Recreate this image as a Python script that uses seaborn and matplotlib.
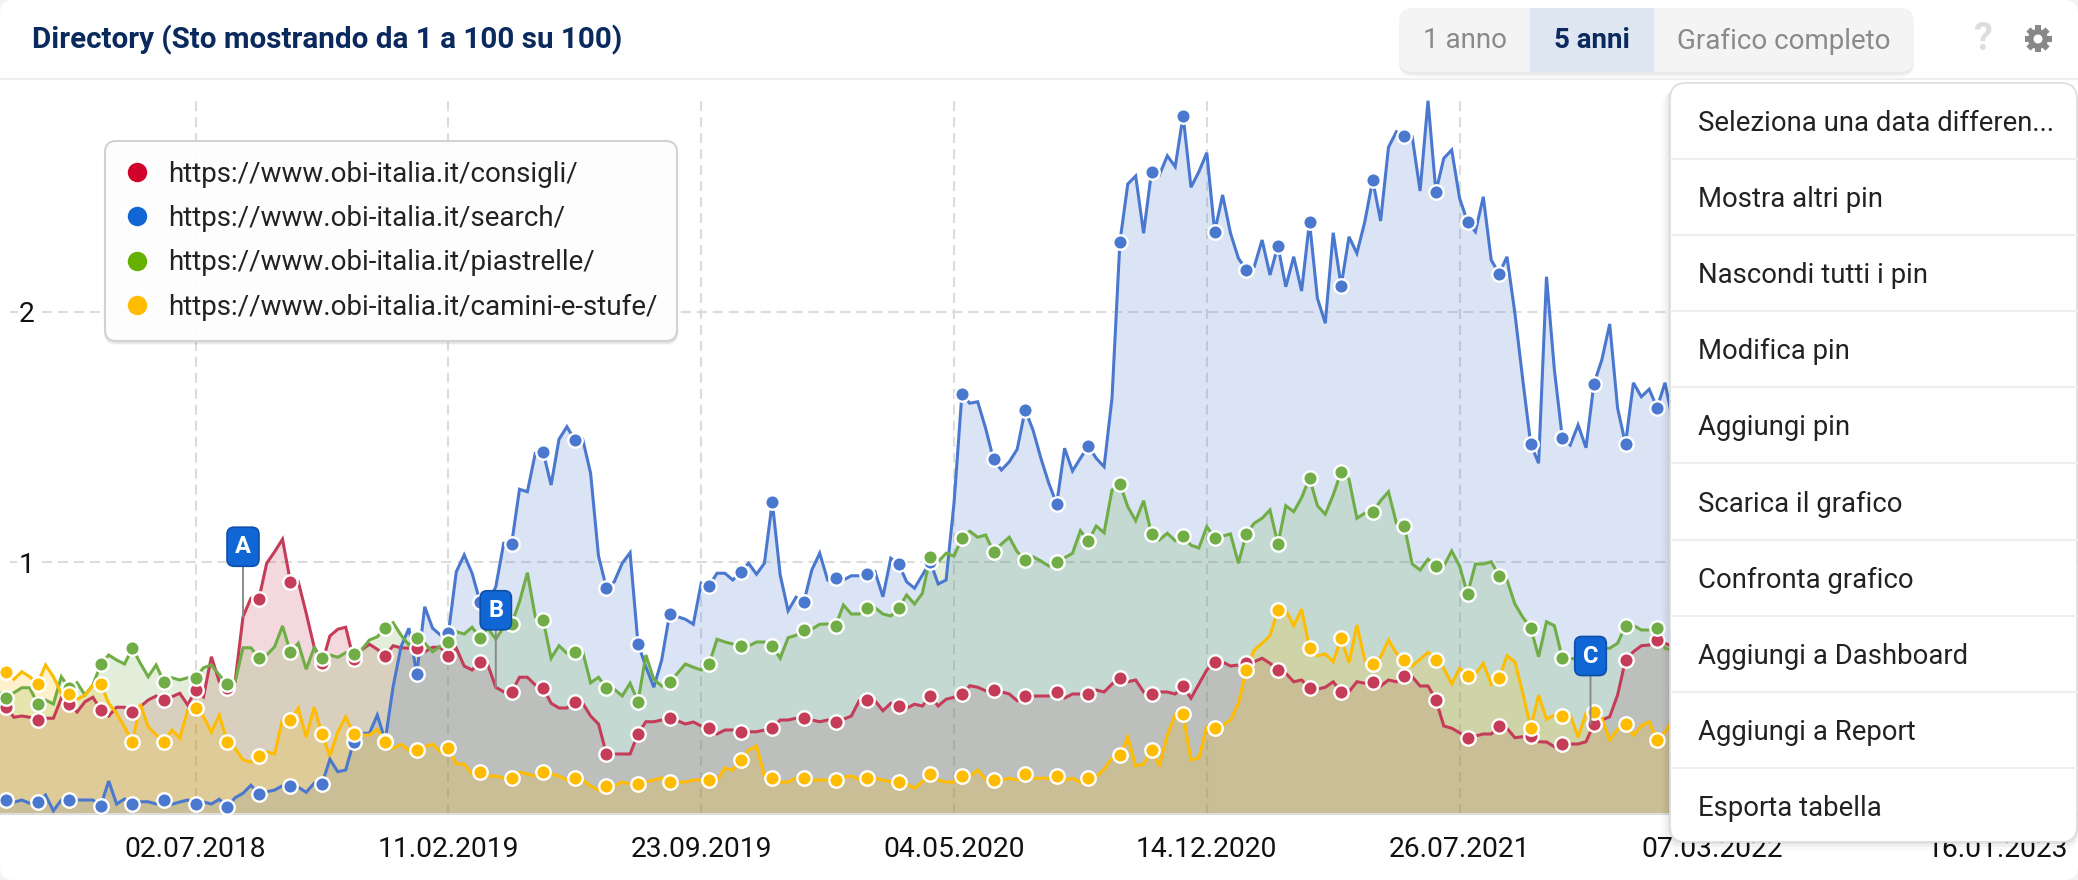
import pandas as pd
import matplotlib
matplotlib.use("Agg")
import matplotlib.pyplot as plt
from matplotlib.lines import Line2D
from matplotlib.patches import Circle, FancyBboxPatch, Rectangle
import seaborn as sns
import math

# weekly readings, first week is 08.01.2018
first_week = "2018-01-08"

consigli = [
    .441, .419, .379, .384, .379, .368, .375, .375, .455, .432, .400, .441, .459, .408, .384, .419, .419, .400,
    .421, .448, .464, .448, .461, .475, .428, .488, .461, .621, .521, .495, .521, .781, .855, .851, .995, 1.041,
    1.091, .921, .921, .795, .661, .595, .704, .731, .739, .611, .648, .671, .651, .625, .665, .657, .655, .657,
    .641, .659, .659, .624, .655, .584, .568, .600, .588, .499, .481, .480, .539, .539, .508, .496, .435, .416,
    .416, .441, .435, .384, .352, .233, .232, .232, .232, .313, .361, .361, .368, .377, .365, .352, .360, .344,
    .336, .312, .328, .328, .320, .321, .321, .328, .336, .368, .368, .375, .377, .368, .361, .368, .360,
    .371, .384, .445, .448, .445, .405, .435, .424, .415, .431, .424, .464, .424, .451, .459, .472, .505, .499,
    .485, .488, .481, .472, .445, .464, .464, .464, .464, .480, .456, .472, .472, .472, .488, .480, .512, .536,
    .521, .528, .480, .472, .480, .480, .472, .504, .455, .512, .568, .601, .600, .584, .588, .595, .601,
    .615, .595, .569, .555, .521, .528, .497, .491, .499, .521, .480, .481, .521, .515, .520, .504, .528, .521,
    .544, .541, .504, .504, .449, .344, .335, .317, .296, .304, .312, .312, .344, .335, .297, .301, .304, .281,
    .280, .261, .272, .272, .272, .281, .352, .368, .381, .468, .608, .641, .665, .668, .688, .675, .661,
]
search = [
    .068, .048, .039, .048, .035, .041, .068, .005, .048, .048, .048, .048, .048, .025, .124, .032, .052, .033,
    .041, .041, .032, .049, .031, .040, .048, .033, .040, .032, .051, .019, .057, .075, .107, .073, .081, .088,
    .105, .105, .099, .079, .115, .112, .211, .161, .168, .281, .315, .315, .388, .285, .501, .661, .735, .552,
    .821, .735, .708, .715, .961, 1.028, .955, .841, .835, .901, 1.075, 1.072, 1.291, 1.281, 1.435, 1.440, 1.308,
    1.491, 1.541, 1.488, 1.491, 1.355, 1.024, .896, .921, .995, 1.037, .673, .581, .499, .608, .792, .781, .771,
    .751, .915, .904, .955, .955, .928, .960, .995, .951, .995, 1.240, .948, .805, .859, .841, .968, 1.035, .928,
    .936, .928, .945, .945, .952, .961, .861, 1.015, .992, .921, .895, .948, 1.001, .912, .928, 1.235,
    1.672, 1.635, 1.641, 1.535, 1.411, 1.368, 1.401, 1.451, 1.608, 1.528, 1.415, 1.315, 1.232, 1.455, 1.364,
    1.415, 1.464, 1.415, 1.381, 1.655, 2.280, 2.512, 2.544, 2.315, 2.561, 2.548, 2.625, 2.581, 2.785, 2.499,
    2.561, 2.637, 2.321, 2.468, 2.315, 2.215, 2.168, 2.181, 2.288, 2.148, 2.265, 2.101, 2.221, 2.084, 2.361,
    2.055, 1.955, 2.317, 2.104, 2.301, 2.235, 2.361, 2.528, 2.364, 2.659, 2.721, 2.705, 2.701, 2.484, 2.845,
    2.481, 2.615, 2.648, 2.455, 2.361, 2.321, 2.461, 2.208, 2.153, 2.221, 1.995, 1.728, 1.472, 1.395, 2.141,
    1.768, 1.497, 1.468, 1.548, 1.457, 1.713, 1.808, 1.952, 1.615, 1.472, 1.717, 1.661, 1.691, 1.617, 1.717, 1.561,
]
piastrelle = [
    .481, .456, .477, .497, .497, .433, .448, .432, .541, .495, .517, .468, .508, .592, .628, .608, .592, .656,
    .595, .541, .588, .520, .537, .528, .537, .537, .577, .588, .548, .512, .521, .657, .657, .617, .628, .661,
    .744, .640, .675, .571, .657, .617, .628, .619, .637, .632, .648, .688, .701, .735, .757, .708, .668, .697,
    .675, .641, .664, .681, .721, .712, .739, .697, .735, .691, .741, .752, .841, .957, .781, .768, .615, .665,
    .635, .640, .641, .517, .539, .497, .491, .464, .515, .441, .628, .531, .504, .520, .555, .592, .579, .568,
    .592, .691, .680, .672, .664, .664, .680, .680, .664, .615, .697, .707, .728, .731, .751, .752, .744,
    .828, .792, .792, .816, .817, .792, .784, .816, .868, .832, .875, 1.021, 1.001, 1.035, 1.024, 1.096, 1.123,
    1.099, 1.108, 1.041, 1.072, 1.099, 1.041, 1.009, 1.021, 1.004, .984, 1.001, 1.017, 1.035, 1.125, 1.083,
    1.144, 1.117, 1.288, 1.312, 1.221, 1.165, 1.245, 1.113, 1.088, 1.115, 1.085, 1.103, 1.067, 1.056, 1.141,
    1.096, 1.104, 1.112, .995, 1.112, 1.155, 1.175, 1.208, 1.072, 1.225, 1.201, 1.257, 1.337, 1.225, 1.191,
    1.268, 1.360, 1.331, 1.175, 1.195, 1.201, 1.245, 1.281, 1.155, 1.145, .992, .968, 1.011, .984, .984, 1.044,
    .984, .872, .992, .992, 1.001, .944, .928, .832, .779, .737, .621, .761, .745, .616, .613, .615, .621, .635,
    .655, .655, .675, .745, .747, .728, .728, .737, .655, .648,
]
camini = [
    .581, .560, .531, .561, .541, .513, .588, .541, .475, .473, .451, .468, .508, .512, .435, .395, .339, .281,
    .432, .341, .308, .281, .328, .295, .408, .417, .381, .319, .388, .281, .255, .208, .199, .225, .241, .232,
    .371, .368, .415, .299, .419, .312, .224, .321, .381, .312, .308, .308, .331, .281, .255, .271, .248, .248,
    .261, .272, .241, .256, .192, .192, .152, .160, .144, .144, .136, .137, .160, .152, .144, .161, .152, .144,
    .128, .136, .128, .104, .088, .104, .104, .120, .112, .112, .120, .128, .136, .121, .120, .120, .128, .128,
    .128, .128, .176, .168, .208, .248, .264, .144, .136, .120, .120, .136, .136, .128, .128, .128, .128,
    .139, .144, .131, .136, .135, .128, .121, .120, .112, .095, .121, .152, .128, .120, .120, .144, .141, .168,
    .131, .128, .128, .135, .128, .152, .135, .135, .135, .144, .128, .135, .120, .136, .141, .171, .215, .227,
    .299, .184, .192, .248, .188, .308, .388, .392, .208, .217, .341, .336, .347, .368, .435, .568, .648,
    .675, .705, .809, .808, .745, .811, .657, .625, .632, .601, .697, .597, .748, .608, .592, .621, .688, .635,
    .608, .584, .611, .639, .608, .575, .512, .575, .544, .552, .595, .511, .536, .625, .601, .475, .337, .468,
    .371, .388, .385, .388, .299, .395, .401, .375, .288, .331, .352, .307, .345, .361, .288, .321, .368,
]

urls = [
    "https://www.obi-italia.it/consigli/",
    "https://www.obi-italia.it/search/",
    "https://www.obi-italia.it/piastrelle/",
    "https://www.obi-italia.it/camini-e-stufe/",
]
series = [consigli, search, piastrelle, camini]
line_colors = ["#c43c58", "#4a78cf", "#70ad47", "#ffbc00"]
legend_colors = ["#d0022b", "#1166d6", "#66b000", "#ffbc00"]

tick_dates = ["2018-07-02", "2019-02-11", "2019-09-23", "2020-05-04", "2020-12-14", "2021-07-26", "2022-03-07", "2023-01-16"]
y_ticks = [1, 2]

# which weeks carry a dot
marker_idx = list(range(1, 86, 4)) + list(range(90, 211, 4))
# pin letter, week index, days before that week, box lift in px
pins = [("A", 31, 0, 70), ("B", 63, 0, 77), ("C", 202, 3, 68)]

menu_items = [
    "Seleziona una data differen...", "Mostra altri pin", "Nascondi tutti i pin", "Modifica pin", "Aggiungi pin",
    "Scarica il grafico", "Confronta grafico", "Aggiungi a Dashboard", "Aggiungi a Report", "Esporta tabella",
]

W, H = 2078, 880
AX_TOP, AX_BOTTOM = 100, 814
PX_PER_WEEK = 7.9
PX_PER_UNIT = 250.0

sns.set_theme(style="white")
plt.rcParams["font.family"] = ["Roboto", "DejaVu Sans"]
plt.rcParams["lines.scale_dashes"] = False

dates = pd.date_range(first_week, periods=len(consigli), freq="7D")
df = pd.DataFrame({"date": dates})
for url, values in zip(urls, series):
    df[url] = values

fig = plt.figure(figsize=(W / 100, H / 100), dpi=100, facecolor="#f3f3f3")

# white card behind everything
bg = fig.add_axes([0, 0, 1, 1], zorder=0)
bg.set_xlim(0, W)
bg.set_ylim(H, 0)
bg.axis("off")
bg.add_patch(FancyBboxPatch((0, 0), W, H, boxstyle="round,pad=0,rounding_size=14", fc="white", ec="none"))

ax = fig.add_axes([0, 1 - AX_BOTTOM / H, 1, (AX_BOTTOM - AX_TOP) / H], zorder=1)
ax.patch.set_alpha(0)

day_per_px = pd.Timedelta(days=7) / PX_PER_WEEK
x_left = dates[0] - (6 - PX_PER_WEEK) * day_per_px
ax.set_xlim(x_left, x_left + W * day_per_px)
y_low = -2 / PX_PER_UNIT
ax.set_ylim(y_low, (812 - AX_TOP) / PX_PER_UNIT)

dash = (0, (7.2, 4.3))
for t in tick_dates:
    ax.axvline(pd.Timestamp(t), color="#dcdcdc", lw=1.5, ls=dash, zorder=0)
for v in y_ticks:
    ax.axhline(v, xmin=10 / W, color="#dcdcdc", lw=1.5, ls=dash, zorder=0)

for url, col in zip(urls, line_colors):
    ax.fill_between(df["date"], df[url], y_low, color=col, alpha=0.2, lw=0, zorder=2)
for url, col in zip(urls, line_colors):
    sns.lineplot(data=df, x="date", y=url, color=col, lw=2.2, ax=ax, sort=False, errorbar=None,
                 solid_joinstyle="miter", zorder=3)
for url, col in zip(urls, line_colors):
    sns.scatterplot(data=df.iloc[marker_idx], x="date", y=url, color=col, s=108, edgecolor="white", linewidth=1.7,
                    ax=ax, zorder=4, clip_on=False)

for letter, i, back, lift in pins:
    ax.annotate(letter, xy=(dates[i] - pd.Timedelta(days=back), consigli[i]), xytext=(0, lift),
                textcoords="offset pixels", ha="center", va="center", color="white", fontsize=17, fontweight="bold",
                zorder=6, bbox=dict(boxstyle="round,pad=0.34,rounding_size=0.3", fc="#1166d6", ec="#0d4fa8", lw=1.2),
                arrowprops=dict(arrowstyle="-", color="#8a8a8a", lw=1.4, shrinkA=0, shrinkB=0))

ax.set_xlabel("")
ax.set_ylabel("")
ax.set_xticks([pd.Timestamp(t) for t in tick_dates])
ax.set_xticklabels([pd.Timestamp(t).strftime("%d.%m.%Y") for t in tick_dates])
ax.set_yticks(y_ticks)
ax.set_yticklabels([str(v) for v in y_ticks])
ax.tick_params(axis="x", length=0, pad=15.5, labelsize=20.3, labelcolor="#111111")
ax.tick_params(axis="y", length=0, pad=-25, labelsize=20.3, labelcolor="#111111")
ax.get_xticklabels()[-1].set_ha("right")
for lab in ax.get_yticklabels():
    lab.set_bbox(dict(fc="white", ec="none", pad=1))
for s in ["top", "left", "right"]:
    ax.spines[s].set_visible(False)
ax.spines["bottom"].set_color("#dddddd")
ax.spines["bottom"].set_linewidth(1.5)

handles = [Line2D([], [], ls="", marker="o", ms=14, mfc=c, mec="none") for c in legend_colors]
leg = ax.legend(handles, urls, loc="upper left", bbox_to_anchor=(105 / W, 1 - (141 - AX_TOP) / (AX_BOTTOM - AX_TOP)),
                borderaxespad=0, fontsize=20, labelcolor="#222222", frameon=True, fancybox=True, framealpha=0.92,
                edgecolor="#cfcfcf", facecolor="white", labelspacing=0.62, handlelength=0.86, handletextpad=0.68,
                borderpad=0.72, shadow={"color": "black", "alpha": 0.06, "ox": 0, "oy": -2})
leg.get_frame().set_linewidth(1.5)
leg.get_frame().set_boxstyle("round", pad=0, rounding_size=0.4)
leg.set_zorder(7)

# header and menu, drawn in pixels over the chart
ui = fig.add_axes([0, 0, 1, 1], zorder=2)
ui.set_xlim(0, W)
ui.set_ylim(H, 0)
ui.axis("off")
ui.patch.set_alpha(0)

ui.plot([0, W], [79, 79], color="#eeeeee", lw=1.5, zorder=1)
ui.text(32, 40, "Directory (Sto mostrando da 1 a 100 su 100)", fontsize=21.3, fontweight="bold", color="#0a2a5e",
        va="center", ha="left")

for off, alpha in [(5, 0.03), (3, 0.05)]:
    ui.add_patch(FancyBboxPatch((1399, 8 + off), 515, 64, boxstyle="round,pad=0,rounding_size=14", fc="black",
                                ec="none", alpha=alpha, zorder=1))
ui.add_patch(FancyBboxPatch((1399, 8), 515, 64, boxstyle="round,pad=0,rounding_size=14", fc="#f4f4f4", ec="none", zorder=2))
ui.add_patch(Rectangle((1530, 8), 124, 64, fc="#dde6f1", ec="none", zorder=3))
ui.text(1465, 41, "1 anno", fontsize=20, color="#8a8a8a", ha="center", va="center", zorder=4)
ui.text(1592, 41, "5 anni", fontsize=20, fontweight="bold", color="#0a2a5e", ha="center", va="center", zorder=4)
ui.text(1784, 41, "Grafico completo", fontsize=20, color="#8a8a8a", ha="center", va="center", zorder=4)
ui.text(1982, 39, "?", fontsize=27, fontweight="bold", color="#dddddd", ha="center", va="center")

# gear icon
gx, gy = 2038, 39
for a in range(0, 180, 45):
    dx, dy = 13.5 * math.cos(math.radians(a)), 13.5 * math.sin(math.radians(a))
    ui.plot([gx - dx, gx + dx], [gy - dy, gy + dy], color="#888888", lw=4.3, solid_capstyle="butt")
ui.add_patch(Circle((gx, gy), 10, fc="#888888", ec="none", zorder=3))
ui.add_patch(Circle((gx, gy), 4.5, fc="white", ec="none", zorder=4))

for off, alpha in [(8, 0.025), (5, 0.035), (2, 0.05)]:
    ui.add_patch(FancyBboxPatch((1670 - off, 83 + off), 408 + off, 759, boxstyle="round,pad=0,rounding_size=16",
                                fc="black", ec="none", alpha=alpha, zorder=5))
ui.add_patch(FancyBboxPatch((1670, 83), 407, 759, boxstyle="round,pad=0,rounding_size=16", fc="white", ec="#dddddd",
                            lw=1.2, zorder=6))
row_h = 76.1
for i, item in enumerate(menu_items):
    y = 121 + i * row_h
    ui.text(1698, y + 2.5, item, fontsize=19.8, color="#222222", ha="left", va="center", zorder=7)
    if i < len(menu_items) - 1:
        ui.plot([1671, W], [y + row_h / 2, y + row_h / 2], color="#eeeeee", lw=1.5, zorder=7)

fig.savefig("out.png", dpi=100, facecolor=fig.get_facecolor())
